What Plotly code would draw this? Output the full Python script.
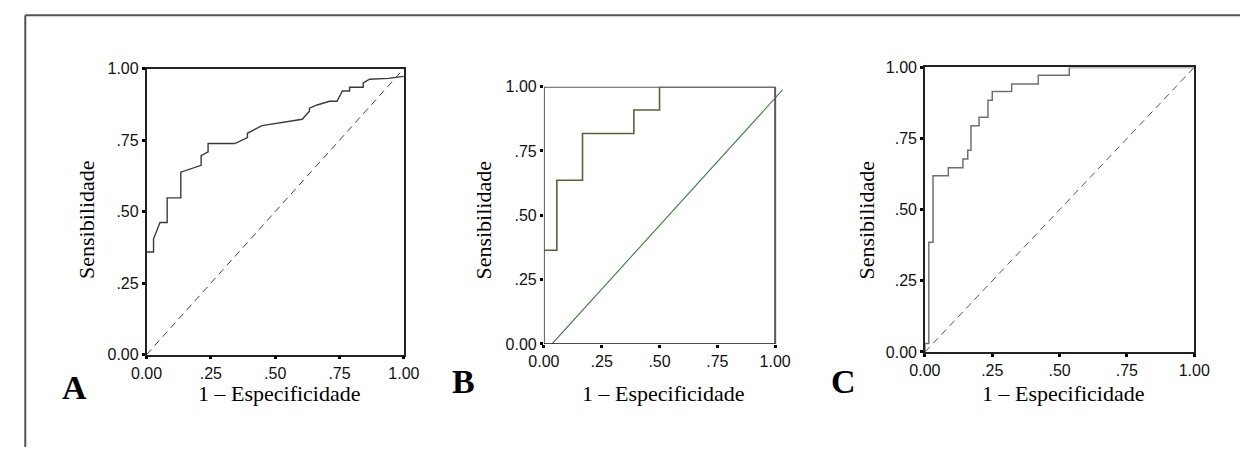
import plotly.graph_objects as go

W, H = 1256, 456

# ---- data ----
fpr_A = [0, 0.027, 0.027, 0.052, 0.08, 0.08, 0.133, 0.133, 0.212, 0.212, 0.239, 0.239,
         0.343, 0.392, 0.392, 0.449, 0.605, 0.633, 0.633, 0.663, 0.711, 0.74, 0.761,
         0.789, 0.789, 0.842, 0.842, 0.867, 0.94, 1.0]
tpr_A = [0.359, 0.359, 0.404, 0.462, 0.462, 0.548, 0.548, 0.638, 0.662, 0.696, 0.709,
         0.738, 0.738, 0.759, 0.774, 0.801, 0.823, 0.851, 0.862, 0.873, 0.886, 0.886,
         0.922, 0.922, 0.935, 0.935, 0.950, 0.963, 0.966, 0.973]

fpr_B = [0, 0.056, 0.056, 0.167, 0.167, 0.389, 0.389, 0.5, 0.5, 1.0]
tpr_B = [0.364, 0.364, 0.636, 0.636, 0.818, 0.818, 0.909, 0.909, 1.0, 1.0]
ref_B_x = [0.035, 1.032]
ref_B_y = [0.0, 0.9875]

fpr_C = [0, 0, 0.0145, 0.0145, 0.030, 0.030, 0.087, 0.087, 0.141, 0.141, 0.159, 0.159,
         0.171, 0.171, 0.201, 0.201, 0.234, 0.234, 0.250, 0.250, 0.322, 0.322, 0.421,
         0.421, 0.536, 0.536, 1.0]
tpr_C = [0, 0.030, 0.030, 0.386, 0.386, 0.619, 0.619, 0.647, 0.647, 0.678, 0.678, 0.709,
         0.709, 0.795, 0.795, 0.825, 0.825, 0.885, 0.885, 0.915, 0.915, 0.942, 0.942,
         0.972, 0.972, 1.0, 1.0]

diag = [0, 1]
tick_vals = [0, 0.25, 0.5, 0.75, 1.0]
tick_text = ["0.00", ".25", ".50", ".75", "1.00"]
panel_letters = ["A", "B", "C"]
x_title = "1 \u2013 Especificidade"
y_title = "Sensibilidade"


def px(x):
    return x / W


def py(y):
    return 1 - y / H


fig = go.Figure()

# Panel A
fig.add_trace(go.Scatter(x=fpr_A, y=tpr_A, mode="lines", xaxis="x", yaxis="y",
                         line=dict(color="#3a3a3a", width=1.4), showlegend=False))
fig.add_trace(go.Scatter(x=diag, y=diag, mode="lines", xaxis="x", yaxis="y",
                         line=dict(color="#444444", width=1, dash="7px,5px"), showlegend=False))
# Panel B
fig.add_trace(go.Scatter(x=ref_B_x, y=ref_B_y, mode="lines", xaxis="x2", yaxis="y2",
                         line=dict(color="#3f7a3f", width=1.1), showlegend=False))
fig.add_trace(go.Scatter(x=fpr_B, y=tpr_B, mode="lines", xaxis="x2", yaxis="y2",
                         line=dict(color="#5e5e3a", width=1.6), showlegend=False, cliponaxis=False))
# Panel C
fig.add_trace(go.Scatter(x=fpr_C, y=tpr_C, mode="lines", xaxis="x3", yaxis="y3",
                         line=dict(color="#707070", width=1.5), showlegend=False))
fig.add_trace(go.Scatter(x=diag, y=diag, mode="lines", xaxis="x3", yaxis="y3",
                         line=dict(color="#555555", width=1, dash="7px,5px"), showlegend=False))

tickfont = dict(family="Liberation Sans, Arial", size=16, color="#111111")


def axis(domain, rng, showline=True, linecolor="#222222", anchor=None, linewidth=1.5):
    d = dict(domain=domain, range=rng, tickvals=tick_vals, ticktext=tick_text,
             ticks="outside", ticklen=3, tickwidth=3, tickcolor="#000000",
             showgrid=False, zeroline=False, showline=showline, linecolor=linecolor,
             linewidth=linewidth, mirror=showline, tickfont=tickfont, fixedrange=True)
    if anchor:
        d["anchor"] = anchor
    return d


# panel geometry in pixels
A = dict(l=134, r=398, t=63, b=360)
B = dict(l=541.7, r=779, t=81.7, b=349)
C = dict(l=932.7, r=1209, t=61.7, b=357.3)
B_ext = 1.035
B_right = B["l"] + B_ext * (B["r"] - B["l"])

fig.update_layout(
    autosize=True,
    margin=dict(l=0, r=0, t=0, b=0),
    paper_bgcolor="white", plot_bgcolor="rgba(0,0,0,0)",
    xaxis=axis([px(A["l"]), px(A["r"])], [0, 1], anchor="y"),
    yaxis=axis([py(A["b"]), py(A["t"])], [0, 1], anchor="x"),
    xaxis2=axis([px(B["l"]), px(B_right)], [0, B_ext], showline=False, anchor="y2"),
    yaxis2=axis([py(B["b"]), py(B["t"])], [0, 1], showline=False, anchor="x2"),
    xaxis3=axis([px(C["l"]), px(C["r"])], [0, 1], anchor="y3"),
    yaxis3=axis([py(C["b"]), py(C["t"])], [0, 1], anchor="x3"),
)

shapes = [
    # outer frame (top and left only)
    dict(type="line", xref="paper", yref="paper", x0=px(9.5), x1=1.0, y0=py(7.5), y1=py(7.5),
         line=dict(color="#555555", width=2)),
    dict(type="line", xref="paper", yref="paper", x0=px(9.5), x1=px(9.5), y0=py(7.5), y1=0,
         line=dict(color="#555555", width=2)),
    # panel B box
    dict(type="line", xref="x2", yref="y2", x0=0, x1=0, y0=0, y1=1, line=dict(color="#5a5a5a", width=2)),
    dict(type="line", xref="x2", yref="y2", x0=0, x1=1, y0=1, y1=1, line=dict(color="#5a5a5a", width=2)),
    dict(type="line", xref="x2", yref="y2", x0=1, x1=1, y0=0, y1=1, line=dict(color="#5a5a5a", width=2)),
    dict(type="line", xref="x2", yref="y2", x0=0, x1=1, y0=0, y1=0, line=dict(color="#111111", width=1.5)),
]
fig.update_layout(shapes=shapes)

serif = "Liberation Serif, Times New Roman, serif"
ann = []
for i, P in enumerate([A, B, C]):
    cx = (P["l"] + P["r"]) / 2
    ann.append(dict(text=x_title, xref="paper", yref="paper", x=px(cx + 4), y=py(400),
                    xanchor="center", yanchor="middle", showarrow=False,
                    font=dict(family=serif, size=22, color="#000000")))
letters_pos = [(60.5, 394), (459, 388), (849, 388)]
ytitle_pos = [73, 480, 873]
for i in range(3):
    ann.append(dict(text=y_title, xref="paper", yref="paper", x=px(ytitle_pos[i]), y=py(220),
                    xanchor="center", yanchor="middle", textangle=-90, showarrow=False,
                    font=dict(family=serif, size=22, color="#000000")))
    ann.append(dict(text="<b>" + panel_letters[i] + "</b>", xref="paper", yref="paper",
                    x=px(letters_pos[i][0]), y=py(letters_pos[i][1]),
                    xanchor="center", yanchor="middle", showarrow=False,
                    font=dict(family=serif, size=34, color="#000000")))
fig.update_layout(annotations=ann)

fig.write_html(
    "out.html",
    config={"displayModeBar": False, "responsive": True},
    default_width="100vw",
    default_height="100vh",
    post_script="document.body.style.margin='0';document.body.style.padding='0';"
                "document.body.style.overflow='hidden';"
                "document.documentElement.style.overflow='hidden';"
                "window.dispatchEvent(new Event('resize'));",
)
